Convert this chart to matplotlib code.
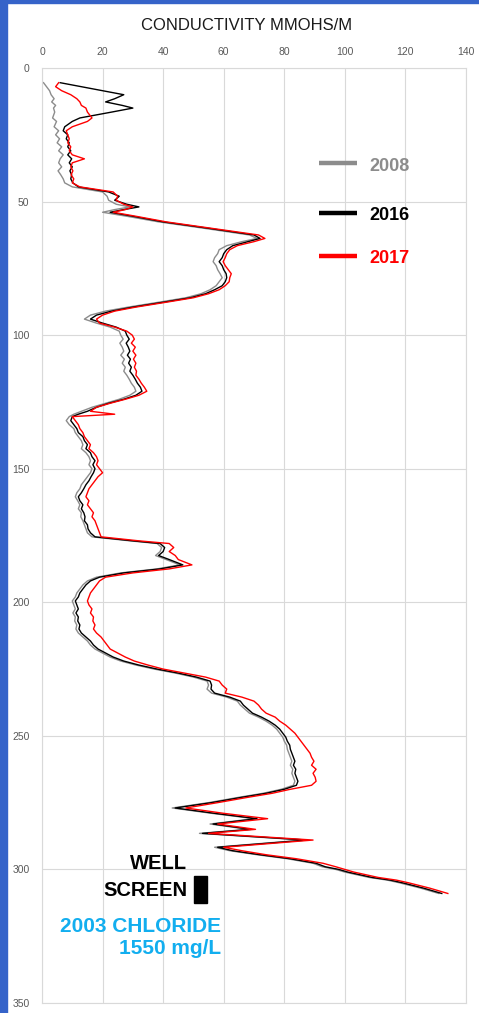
import numpy as np
import matplotlib
matplotlib.use("Agg")
import matplotlib.pyplot as plt
from matplotlib.patches import Rectangle

# depth (ft) shared by the three logs
depth = [5.5, 7, 8.5, 10, 11.5, 12.7, 14, 15, 16.5, 18.7,
         20, 22, 23.5, 25, 26.5, 28, 29.5, 31, 32.5, 34,
         35.5, 37, 38.5, 40, 41.5, 43, 44.5, 46.4, 48, 49.5,
         51, 52, 53, 54, 55.5, 57.6, 60, 62.5, 63.8, 65,
         66.5, 68, 69.5, 71, 72.5, 74, 75.5, 77, 78.5, 80,
         81.5, 83, 84.5, 86, 87.5, 89.5, 91, 92.5, 94, 95.5,
         97, 98.5, 100, 101.5, 103, 104.5, 106, 107.5, 109, 110.5,
         112, 113.5, 115, 116.5, 118, 119.5, 121, 122.5, 124, 125.5,
         127, 128.5, 129.6, 130.5, 132, 133.5, 135, 136.5, 138, 139.5,
         141, 142.5, 144, 145.5, 147, 148.5, 150, 151.5, 153, 154.5,
         156, 157.5, 159, 160.5, 162, 163.5, 165, 166.5, 168, 169.5,
         171, 172.5, 174, 175.5, 177, 178, 179.5, 181, 182.5, 184,
         186, 187.5, 189, 190.6, 192, 193.5, 195, 196.5, 198, 199.5,
         201, 202.5, 204, 205.5, 207, 208.5, 210, 211.5, 213, 214.5,
         216, 217.5, 219, 220.5, 222, 223.5, 225, 226.5, 228, 229.5,
         231, 232.5, 234, 235.5, 237, 238.5, 240, 241.5, 243, 244.5,
         246, 247.5, 249, 250.5, 252, 253.5, 255, 256.5, 258, 259.5,
         261, 262.5, 264, 265.5, 267, 268.5, 270, 271.5, 273, 275,
         277, 279, 281, 283, 285, 286.5, 289, 291.7, 293, 294.5,
         296, 297.7, 299, 300, 301, 302, 303, 304, 305, 306,
         307, 308, 309]

cond_2008 = [0.5, 1.5, 2.5, 3, 4, 3.2, 4.5, 3.8, 4.2, 3.5,
             4.8, 4, 5.5, 4.5, 5.8, 5, 6.5, 5.5, 7, 6,
             5.5, 6.5, 5.3, 6.2, 7, 7.5, 10, 20, 21.5, 22,
             24.5, 29, 24, 20, 28, 38.5, 53.5, 68.5, 71, 66,
             61, 58.5, 58, 57, 56.5, 57.5, 58, 58.8, 59.5, 58.5,
             57.5, 55.5, 52.5, 47.5, 39.5, 28.5, 21, 16, 14, 18,
             22.5, 25.5, 26, 26.8, 25.7, 26.5, 27, 26, 27.2, 26.5,
             27.5, 27, 28, 28.8, 29.5, 30.5, 31, 29, 25.5, 21,
             16.5, 13, 10.5, 9, 8, 9, 10.5, 11, 12, 13,
             13.5, 13, 14.5, 15.5, 16, 15.5, 16.5, 16, 15, 14,
             13, 12.5, 11.5, 11, 11.8, 12.5, 12, 13, 12.8, 13.5,
             14, 14.5, 15, 16.5, 29, 38, 39.5, 39, 37.5, 41,
             45.5, 38, 26, 18, 15, 13.5, 12.5, 11.5, 11, 10,
             10.5, 11, 10.2, 11, 10.8, 11.5, 11.2, 12, 13.5, 15,
             16, 17.5, 20, 22.5, 26, 31, 37, 44, 50, 54.5,
             55, 54.5, 56, 61, 64.5, 65.5, 67, 68.5, 71.5, 74,
             76, 77.5, 78.5, 79.5, 80, 80.8, 81, 81.5, 82, 82.5,
             82, 82.8, 82.5, 83, 83.5, 83, 79, 73, 65, 55,
             43, 56, 70, 55.5, 68, 52, 86.5, 57, 62, 71,
             81, 89.5, 92.5, 97, 100, 104, 108, 114, 118, 121.5,
             125, 128, 131]

cond_2016 = [6, 13, 20, 27, 24, 21, 26.5, 30, 23, 12.5,
             10, 7.5, 7, 8.5, 8, 9, 8.5, 9.5, 8.5, 9.8,
             9, 10, 9.2, 9.8, 9.5, 10.2, 12, 22, 25.5, 24,
             28, 32, 27, 22.5, 30, 40, 55, 70, 72, 68,
             63, 61, 60, 59.5, 58.5, 59.5, 60, 60.8, 61, 60.5,
             59.5, 57, 54, 49, 41, 30, 23, 18, 16, 20,
             24.5, 27.5, 28, 28.8, 27.8, 28.5, 29, 28.2, 29.2, 28.6,
             29.5, 29, 30, 30.8, 31.5, 32.5, 33, 31, 27, 22,
             18, 15, 12, 10, 9.5, 10.5, 11.5, 12, 13.5, 14,
             15, 14.5, 16, 16.5, 17.5, 16.8, 17.5, 17, 16.2, 15.5,
             14.5, 13.8, 13, 12, 12.5, 13.5, 13, 13.8, 14.2, 14,
             15, 15.2, 16, 17.5, 30, 39, 40.5, 40, 38.5, 42,
             46.5, 39, 27, 19, 16, 14.5, 13.5, 12.5, 12, 11,
             11.5, 12, 11.2, 12, 11.8, 12.5, 12.2, 13, 14.5, 16,
             17, 18.5, 21, 23.5, 27, 32, 38, 45, 51, 55.5,
             56, 55.8, 57, 62, 65.5, 66.5, 68, 69.5, 72.5, 75,
             77, 78.5, 79.5, 80.5, 81, 81.8, 82, 82.5, 83, 83.5,
             83, 83.8, 83.5, 84, 84.5, 84, 80, 74, 66, 56,
             44, 57, 71, 56.5, 69, 53, 87.5, 58, 63, 72,
             82, 90.5, 93.5, 98, 101, 105, 109, 115, 119, 122.5,
             126, 129, 132]

cond_2017 = [5.5, 4.5, 6.5, 9.5, 11.5, 12.5, 13, 14.5, 15, 16.5,
             15, 10, 8, 8.5, 9, 8.5, 9.5, 9, 10, 14,
             10, 9.5, 10.2, 9.6, 10.5, 10, 12.5, 23.5, 25, 24.5,
             27, 30, 27.5, 23.5, 31, 41, 56, 71.5, 73.6, 70,
             64.5, 62, 61, 60.5, 59.8, 60.5, 61.5, 62.5, 62, 61.8,
             60.5, 58.5, 55, 50, 42, 31, 24, 20, 18, 19,
             24, 28, 29.8, 30.5, 29.5, 30.8, 30, 31, 30.2, 31,
             30.5, 31.2, 31, 32, 32.8, 33.8, 34.6, 32, 27.5, 22.5,
             18, 16, 24, 10, 11, 12, 12.5, 13.5, 14, 15,
             16, 15.5, 17, 18, 18.5, 18, 19, 20, 18.5, 17.5,
             16.5, 15.5, 15, 14.5, 15.5, 15, 16, 17, 16.5, 17.5,
             18, 18.5, 19, 19.5, 32, 42, 43.5, 42, 44, 45,
             49.5, 42, 30, 21, 19, 18, 17, 16, 15.5, 15,
             15.5, 16.5, 16, 17, 16.8, 17.5, 17, 18, 19.5, 20.5,
             21.5, 22.5, 25, 27.5, 30.5, 35, 40, 47, 54, 58.5,
             59.5, 61, 60.5, 66, 70, 71.5, 72.5, 74, 77, 78.5,
             80.5, 82, 83.5, 84.5, 85.5, 86.5, 87.5, 88.5, 89, 89.8,
             89, 90.5, 89.5, 90.2, 90.5, 89, 82, 76, 68, 58,
             47.5, 60, 74.5, 58, 70.5, 55, 89.5, 60, 66, 74,
             84, 92.8, 97, 100, 103, 107, 111, 117, 121, 124.5,
             128, 131, 134]

years = ['2008', '2016', '2017']
colors = ['#8C8C8C', '#000000', '#FF0000']

# well screen interval (ft)
screen_top = 302.6
screen_bottom = 312.4

font = ['Liberation Sans', 'DejaVu Sans']

fig = plt.figure(figsize=(4.79, 10.13), dpi=100)
fig.patch.set_facecolor('white')
fig.patches.append(Rectangle((0, 0), 7 / 479, 1, transform=fig.transFigure,
                             color='#3563C9', zorder=0))
fig.patches.append(Rectangle((0, 1 - 3 / 1013), 1, 3 / 1013, transform=fig.transFigure,
                             color='#3563C9', zorder=0))

ax = fig.add_axes([42 / 479, 10 / 1013, 424 / 479, 935 / 1013])

for vals, c in zip([cond_2008, cond_2016, cond_2017], colors):
    ax.plot(vals, depth, color=c, lw=1.0)

ax.set_xlim(0, 140)
ax.set_ylim(350, 0)
ax.set_xticks(np.arange(0, 141, 20))
ax.set_yticks(np.arange(0, 351, 50))
ax.xaxis.tick_top()
ax.tick_params(length=0, labelsize=7.5, labelcolor='#595959')
ax.tick_params(axis='x', pad=8)
ax.tick_params(axis='y', pad=9)
for lab in ax.get_xticklabels() + ax.get_yticklabels():
    lab.set_family(font)
ax.grid(True, color='#D9D9D9', lw=0.8)
ax.set_axisbelow(True)
for s in ax.spines.values():
    s.set_color('#D9D9D9')
    s.set_linewidth(0.8)

fig.text(247 / 479, 1 - 25 / 1013, 'CONDUCTIVITY MMOHS/M', ha='center', va='center',
         fontsize=12, family=font, color='#1A1A1A')

# legend
leg_y = [0.898, 0.845, 0.799]
for yy, lab, c in zip(leg_y, years, colors):
    ax.plot([0.653, 0.742], [yy, yy], color=c, lw=3.2, transform=ax.transAxes,
            solid_capstyle='butt')
    ax.text(0.771, yy - 0.003, lab, color=c, fontsize=13, fontweight='bold',
            family=font, va='center', ha='left', transform=ax.transAxes)

# annotations
ax.text(47.9, 300, 'WELL', ha='right', va='baseline', fontsize=14.5,
        fontweight='bold', family=font, color='black')
ax.text(47.9, 310, 'SCREEN', ha='right', va='baseline', fontsize=14.5,
        fontweight='bold', family=font, color='black')
ax.add_patch(Rectangle((50.2, screen_top), 4.3, screen_bottom - screen_top,
                       color='black'))
ax.text(59, 323.6, '2003 CHLORIDE', ha='right', va='baseline', fontsize=15,
        fontweight='bold', family=font, color='#12AEEF')
ax.text(59, 331.5, '1550 mg/L', ha='right', va='baseline', fontsize=15,
        fontweight='bold', family=font, color='#12AEEF')

plt.savefig('out.png', dpi=100)
